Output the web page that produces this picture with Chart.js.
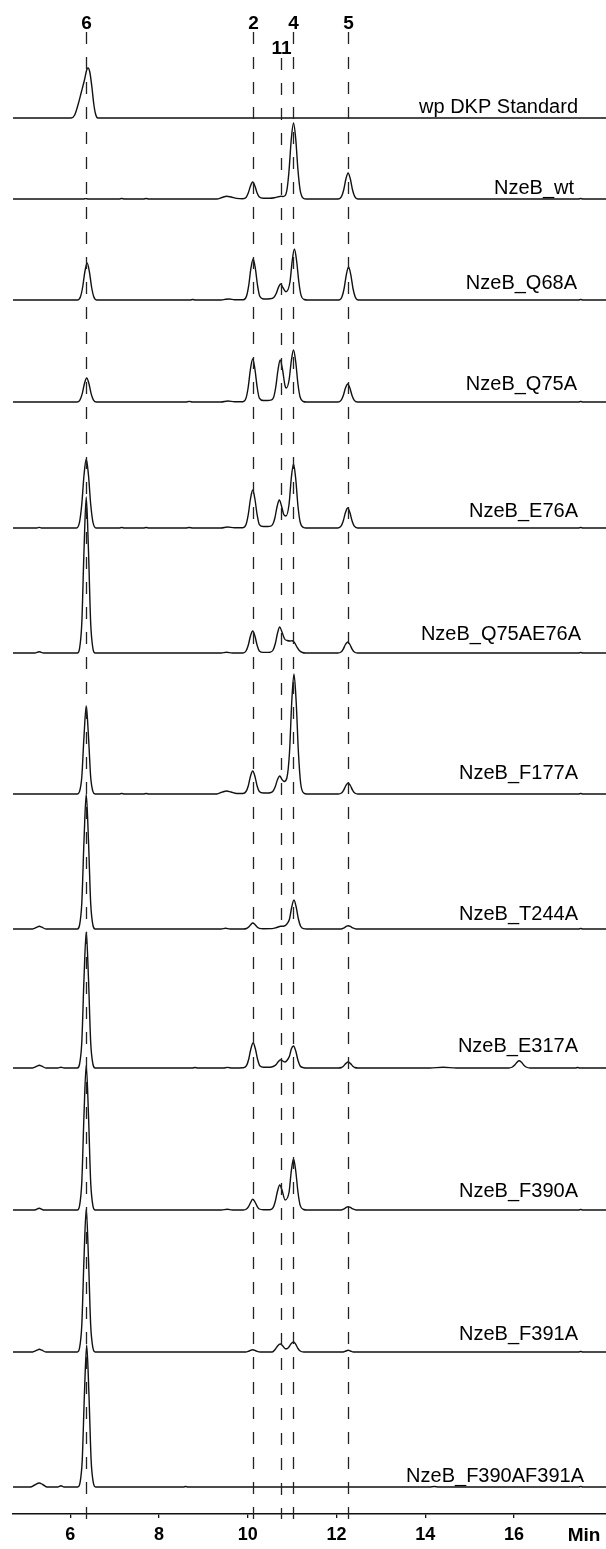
<!DOCTYPE html>
<html>
<head>
<meta charset="utf-8">
<script src="https://cdn.jsdelivr.net/npm/chart.js@4.4.1/dist/chart.umd.min.js"></script>
<style>
  html, body { margin: 0; padding: 0; background: #fff; }
  #wrap { width: 606px; height: 1549px; position: relative; }
</style>
</head>
<body>
<div id="wrap"><canvas id="chrom"></canvas></div>
<script>
// Retention-time axis (min)
const timeMin = 4.71;
const timeMax = 18.07;
const timeTicks = [6, 8, 10, 12, 14, 16];

// Reference compounds marked across all runs: retention time and label
const markerTimes = [6.35, 10.11, 10.74, 11.02, 12.26];
const markerLabels = ['6', '2', '11', '4', '5'];

// Sample names, top to bottom
const sampleNames = [
  'wp DKP Standard', 'NzeB_wt', 'NzeB_Q68A', 'NzeB_Q75A', 'NzeB_E76A',
  'NzeB_Q75AE76A', 'NzeB_F177A', 'NzeB_T244A', 'NzeB_E317A',
  'NzeB_F390A', 'NzeB_F391A', 'NzeB_F390AF391A'
];

// Chromatogram traces: [retention time (min), signal above the run's baseline]
const wpStandard = [[4.71,0],[6.02,0],[6.1,3],[6.18,14],[6.25,26],[6.32,38],[6.37,48],[6.40,50],[6.44,46],[6.49,30],[6.53,14],[6.57,4],[6.62,0],[18.07,0]];

const nzebWt = [[4.71,0],[6.3,0],[6.35,0.4],[6.4,0],[7.1,0],[7.16,0.5],[7.22,0],[7.65,0],[7.71,0.5],[7.77,0],
  [9.3,0],[9.42,1.5],[9.52,2.7],[9.62,2],[9.75,0.6],
  [9.89,0.3],[9.96,1.5],[10.01,6],[10.06,13],[10.11,17],[10.16,13],[10.21,6],[10.26,2],[10.35,0.8],
  [10.5,0.8],[10.6,1.3],[10.69,2.2],[10.74,2.8],[10.79,2.5],[10.84,3.4],[10.885,10],[10.93,29],[10.98,60],[11.03,76],[11.08,60],[11.13,29],[11.18,8.7],[11.25,0.8],[11.32,0],
  [12.04,0],[12.11,2.3],[12.16,9],[12.21,20],[12.26,26],[12.31,20],[12.36,9],[12.41,2.3],[12.48,0],
  [17.45,0],[17.5,0.5],[17.55,0],[18.07,0]];

const nzebQ68A = [[4.71,0],[6.16,0],[6.23,3.3],[6.28,13],[6.33,28.5],[6.38,37],[6.43,28.5],[6.48,13],[6.53,3.3],[6.6,0],
  [8.7,0],[8.76,0.5],[8.82,0],[9.4,0],[9.5,0.8],[9.58,1],[9.7,0.3],
  [9.9,0.2],[9.97,3.7],[10.02,14.4],[10.07,31.6],[10.12,41],[10.17,31.6],[10.22,14.4],[10.27,3.7],[10.36,1],
  [10.5,1.2],[10.59,2.8],[10.64,6.5],[10.69,12.6],[10.74,16],[10.79,12.5],[10.86,8.3],[10.95,18],[11.0,39],[11.05,51],[11.1,39],[11.15,18],[11.2,4.6],[11.27,0.5],[11.35,0],
  [12.05,0],[12.12,3],[12.17,11.5],[12.22,25.4],[12.27,33],[12.32,25.4],[12.37,11.5],[12.42,3],[12.49,0],
  [17.45,0],[17.5,0.5],[17.55,0],[18.07,0]];

const nzebQ75A = [[4.71,0],[6.15,0],[6.22,2.2],[6.27,8.4],[6.32,18.5],[6.37,24],[6.42,18.5],[6.47,8.4],[6.52,2.2],[6.59,0],
  [8.6,0],[8.68,0.6],[8.76,0],[9.4,0],[9.55,1],[9.7,0.3],
  [9.89,0.3],[9.96,3.9],[10.01,15],[10.06,33],[10.11,43],[10.16,33],[10.21,15],[10.26,3.9],[10.35,1.5],
  [10.45,1.5],[10.51,1.8],[10.58,4.5],[10.63,15],[10.68,32],[10.73,42],[10.78,33],[10.84,16],[10.87,14],[10.93,22],[10.98,41],[11.03,52],[11.08,40],[11.13,18],[11.18,4.7],[11.25,0.5],[11.32,0],
  [12.03,0],[12.1,1.6],[12.15,6.3],[12.2,13.9],[12.25,18],[12.3,13.9],[12.35,6.3],[12.4,1.6],[12.47,0],
  [17.45,0],[17.5,0.5],[17.55,0],[18.07,0]];

const nzebE76A = [[4.71,0],[5.25,0],[5.3,0.6],[5.35,0],[6.14,0],[6.21,6.2],[6.26,24],[6.31,53],[6.36,69],[6.41,53],[6.46,24],[6.51,6.2],[6.58,0],
  [7.1,0],[7.16,0.5],[7.22,0],[7.65,0],[7.71,0.5],[7.77,0],[8.6,0],[8.68,0.5],[8.76,0],[9.4,0],[9.54,1],[9.7,0.3],
  [9.89,0.3],[9.96,3.4],[10.01,13.3],[10.06,29],[10.11,38],[10.16,29],[10.21,13.3],[10.26,3.4],[10.35,1.5],
  [10.45,1.5],[10.49,1.6],[10.56,3.5],[10.61,10],[10.66,21.5],[10.71,28],[10.76,22],[10.81,13.5],[10.86,12],[10.93,24],[10.98,50],[11.03,64],[11.08,49],[11.13,22],[11.18,5.8],[11.25,0.6],[11.32,0],
  [12.03,0],[12.1,1.8],[12.15,7],[12.2,15.4],[12.25,20],[12.3,15.4],[12.35,7],[12.4,1.8],[12.47,0],
  [17.45,0],[17.5,0.5],[17.55,0],[18.07,0]];

const nzebQ75AE76A = [[4.71,0],[5.2,0],[5.3,1.3],[5.4,0],[6.16,0],[6.21,4.7],[6.26,30],[6.31,103],[6.36,156],[6.41,103],[6.46,30],[6.51,4.7],[6.56,0],
  [9.4,0],[9.52,0.7],[9.65,0],
  [9.89,0],[9.96,2],[10.01,7.7],[10.06,17],[10.11,22],[10.16,17],[10.21,7.7],[10.26,2],[10.35,0.6],
  [10.45,0.6],[10.5,0.8],[10.57,3],[10.62,9.5],[10.67,20],[10.72,26],[10.77,21],[10.83,14],[10.89,12.5],[10.95,12],[11.0,12.3],[11.05,10.5],[11.1,6.5],[11.16,2.5],[11.23,0.5],[11.3,0],
  [12.03,0],[12.1,1],[12.15,3.9],[12.2,8.5],[12.25,11],[12.3,8.5],[12.35,3.9],[12.4,1],[12.47,0],
  [17.45,0],[17.5,0.5],[17.55,0],[18.07,0]];

const nzebF177A = [[4.71,0],[6.16,0],[6.21,2.6],[6.26,17],[6.31,58],[6.36,88],[6.41,58],[6.46,17],[6.51,2.6],[6.56,0],
  [7.1,0],[7.16,0.5],[7.22,0],[7.65,0],[7.71,0.5],[7.77,0],
  [9.3,0],[9.42,1.8],[9.52,3],[9.62,2],[9.75,0.5],
  [9.89,0.5],[9.96,2.5],[10.01,8],[10.06,17.7],[10.11,23],[10.16,17.7],[10.21,8],[10.26,2.5],[10.35,1],
  [10.45,1],[10.5,1.2],[10.57,3],[10.62,7.5],[10.67,14.5],[10.72,18],[10.77,14.5],[10.82,12.5],[10.88,16],[10.94,42],[10.99,92],[11.04,120],[11.09,92],[11.14,42],[11.19,11],[11.26,1],[11.33,0],
  [12.04,0],[12.11,1],[12.16,3.9],[12.21,8.5],[12.26,11],[12.31,8.5],[12.36,3.9],[12.41,1],[12.48,0],
  [17.45,0],[17.5,0.5],[17.55,0],[18.07,0]];

const nzebT244A = [[4.71,0],[5.15,0],[5.25,1.8],[5.3,2.7],[5.36,1.8],[5.45,0],
  [6.16,0],[6.21,4],[6.26,26],[6.31,89],[6.36,135],[6.41,89],[6.46,26],[6.51,4],[6.56,0],
  [9.4,0],[9.5,0.8],[9.6,0],
  [9.9,0],[9.97,0.5],[10.02,2],[10.07,4.6],[10.11,6],[10.16,4.6],[10.21,2],[10.26,0.6],[10.35,0.3],
  [10.55,0.4],[10.65,1.5],[10.74,2.7],[10.82,3],[10.88,5],[10.94,10],[10.99,22],[11.04,29],[11.09,22],[11.14,10],[11.19,2.7],[11.26,0.3],[11.33,0],
  [12.1,0],[12.17,1.2],[12.22,2.6],[12.26,3.3],[12.31,2.6],[12.36,1.2],[12.44,0],
  [17.45,0],[17.5,0.5],[17.55,0],[18.07,0]];

const nzebE317A = [[4.71,0],[5.15,0],[5.25,1.8],[5.3,2.7],[5.36,1.8],[5.45,0],[5.72,0],[5.79,0.7],[5.86,0],
  [6.16,0],[6.21,4],[6.26,26],[6.31,90],[6.36,136],[6.41,90],[6.46,26],[6.51,4],[6.56,0],
  [8.75,0],[8.81,0.5],[8.87,0],[9.45,0],[9.54,0.6],[9.65,0],
  [9.9,0.2],[9.97,2.3],[10.02,8.8],[10.07,19.3],[10.12,25],[10.17,19.3],[10.22,8.8],[10.27,2.3],[10.36,0.8],
  [10.5,0.8],[10.57,1.5],[10.64,3.5],[10.69,6.6],[10.74,8.3],[10.79,7],[10.84,6],[10.89,8],[10.94,12],[10.98,19],[11.03,22],[11.08,17],[11.13,7.7],[11.18,2],[11.26,0.3],[11.33,0],
  [12.04,0],[12.11,0.5],[12.16,2.1],[12.21,4.6],[12.26,6],[12.31,4.6],[12.36,2.1],[12.41,0.5],[12.48,0],
  [14.1,0],[14.4,0.7],[14.7,0],
  [15.88,0],[15.96,1],[16.02,3.3],[16.07,6],[16.11,7.3],[16.16,6],[16.21,3.3],[16.27,1],[16.36,0],
  [17.38,0],[17.43,0.5],[17.48,0],[18.07,0]];

const nzebF390A = [[4.71,0],[5.2,0],[5.3,1.7],[5.4,0],
  [6.16,0],[6.21,4.4],[6.26,28],[6.31,96],[6.36,145],[6.41,96],[6.46,28],[6.51,4.4],[6.56,0],
  [9.4,0],[9.54,0.8],[9.65,0],
  [9.9,0],[9.97,1],[10.02,3.7],[10.07,8.2],[10.11,10.7],[10.16,8.2],[10.21,3.7],[10.26,1],[10.35,0.3],
  [10.5,0.3],[10.57,2.3],[10.62,8.8],[10.67,19],[10.72,25],[10.77,20],[10.84,10],[10.93,18],[10.98,39],[11.03,51],[11.08,39],[11.13,18],[11.18,4.6],[11.26,0.5],[11.33,0],
  [12.1,0],[12.17,1.2],[12.22,2.6],[12.26,3.3],[12.31,2.6],[12.36,1.2],[12.44,0],
  [17.45,0],[17.5,0.5],[17.55,0],[18.07,0]];

const nzebF391A = [[4.71,0],[5.15,0],[5.25,1.8],[5.3,2.7],[5.36,1.8],[5.45,0],
  [6.16,0],[6.21,4.3],[6.26,27],[6.31,94],[6.36,143],[6.41,94],[6.46,27],[6.51,4.3],[6.56,0],
  [9.95,0],[10.03,1],[10.11,2.3],[10.19,1],[10.28,0],
  [10.55,0],[10.62,2.8],[10.68,6.5],[10.73,8],[10.78,6.5],[10.84,3.4],[10.88,3.2],[10.93,5.2],[10.98,8.5],[11.03,10],[11.08,7.7],[11.13,3.5],[11.18,1],[11.26,0],
  [12.15,0],[12.21,1],[12.26,1.7],[12.31,1],[12.38,0],
  [17.45,0],[17.5,0.5],[17.55,0],[18.07,0]];

const nzebF390AF391A = [[4.71,0],[5.1,0],[5.2,2],[5.3,4],[5.38,2.5],[5.48,0],[5.72,0],[5.79,1.3],[5.86,0],
  [6.17,0],[6.22,4.3],[6.27,27],[6.32,94],[6.37,142],[6.42,94],[6.47,27],[6.52,4.3],[6.57,0],
  [8.55,0],[8.6,0.5],[8.65,0],
  [14.1,0],[14.2,0.5],[14.3,0],[17.45,0],[17.5,0.5],[17.55,0],[18.07,0]];

const traces = [wpStandard, nzebWt, nzebQ68A, nzebQ75A, nzebE76A, nzebQ75AE76A,
  nzebF177A, nzebT244A, nzebE317A, nzebF390A, nzebF391A, nzebF390AF391A];

// ---- layout ----
const PLOT_TOP_VALUE = 1514;                 // y-range of the stacked plot
const traceOffsets = [1396, 1315, 1214, 1112, 986, 861, 720, 585, 446, 304, 162, 27];
const labelRight = [578, 574, 577, 577, 578, 581, 578, 578, 578, 578, 578, 584];
const labelLift = [5, 5.5, 11, 12, 11, 13, 15, 9, 16, 13, 12, 5];
const INK = '#111';

const datasets = traces.map((pts, i) => ({
  label: sampleNames[i],
  data: pts.map(([t, s]) => ({ x: t, y: s + traceOffsets[i] })),
  borderColor: INK,
  borderWidth: 1.4,
  pointRadius: 0,
  fill: false,
  cubicInterpolationMode: 'monotone',
  tension: 0.4
}));

const overlay = {
  id: 'overlay',
  afterDatasetsDraw(chart) {
    const { ctx, scales: { x, y } } = chart;
    const axisY = y.getPixelForValue(0);
    ctx.save();
    // dashed marker lines with compound numbers
    ctx.strokeStyle = '#222';
    ctx.lineWidth = 1.3;
    ctx.setLineDash([12, 13]);
    ctx.fillStyle = '#000';
    ctx.font = 'bold 19px "Liberation Sans", Arial, sans-serif';
    ctx.textAlign = 'center';
    ctx.textBaseline = 'alphabetic';
    markerTimes.forEach((t, k) => {
      const px = Math.round(x.getPixelForValue(t)) + 0.5;
      const low = markerLabels[k] === '11';
      const top = low ? 58 : 32;
      ctx.beginPath();
      ctx.moveTo(px, top);
      ctx.lineTo(px, axisY + 5);
      ctx.stroke();
      ctx.fillText(markerLabels[k], px, low ? 53.5 : 28.5);
    });
    ctx.setLineDash([]);
    // sample names
    ctx.font = '20px "Liberation Sans", Arial, sans-serif';
    ctx.textAlign = 'right';
    sampleNames.forEach((name, i) => {
      const by = y.getPixelForValue(traceOffsets[i]);
      ctx.fillText(name, labelRight[i], by - labelLift[i]);
    });
    // axis unit
    ctx.font = 'bold 19px "Liberation Sans", Arial, sans-serif';
    ctx.textAlign = 'center';
    ctx.fillText('Min', 584, 1541);
    ctx.restore();
  }
};

new Chart(document.getElementById('chrom'), {
  type: 'line',
  data: { datasets },
  options: {
    responsive: true,
    maintainAspectRatio: false,
    devicePixelRatio: 1,
    animation: false,
    events: [],
    layout: { padding: { left: 13, right: 0, top: 0, bottom: 0 } },
    plugins: { legend: { display: false }, tooltip: { enabled: false } },
    scales: {
      x: {
        type: 'linear',
        min: timeMin,
        max: timeMax,
        afterFit(scale) { scale.height = 35; },
        afterBuildTicks(scale) { scale.ticks = timeTicks.map(v => ({ value: v })); },
        border: { display: true, color: INK, width: 1.4 },
        grid: { display: true, drawOnChartArea: false, drawTicks: true, tickLength: 4, color: INK, lineWidth: 1.3 },
        ticks: {
          color: '#000',
          padding: 6,
          maxRotation: 0,
          autoSkip: false,
          font: { family: '"Liberation Sans", Arial, sans-serif', size: 18, weight: 'bold' }
        }
      },
      y: {
        type: 'linear',
        display: false,
        min: 0,
        max: PLOT_TOP_VALUE
      }
    }
  },
  plugins: [overlay]
});
</script>
</body>
</html>
